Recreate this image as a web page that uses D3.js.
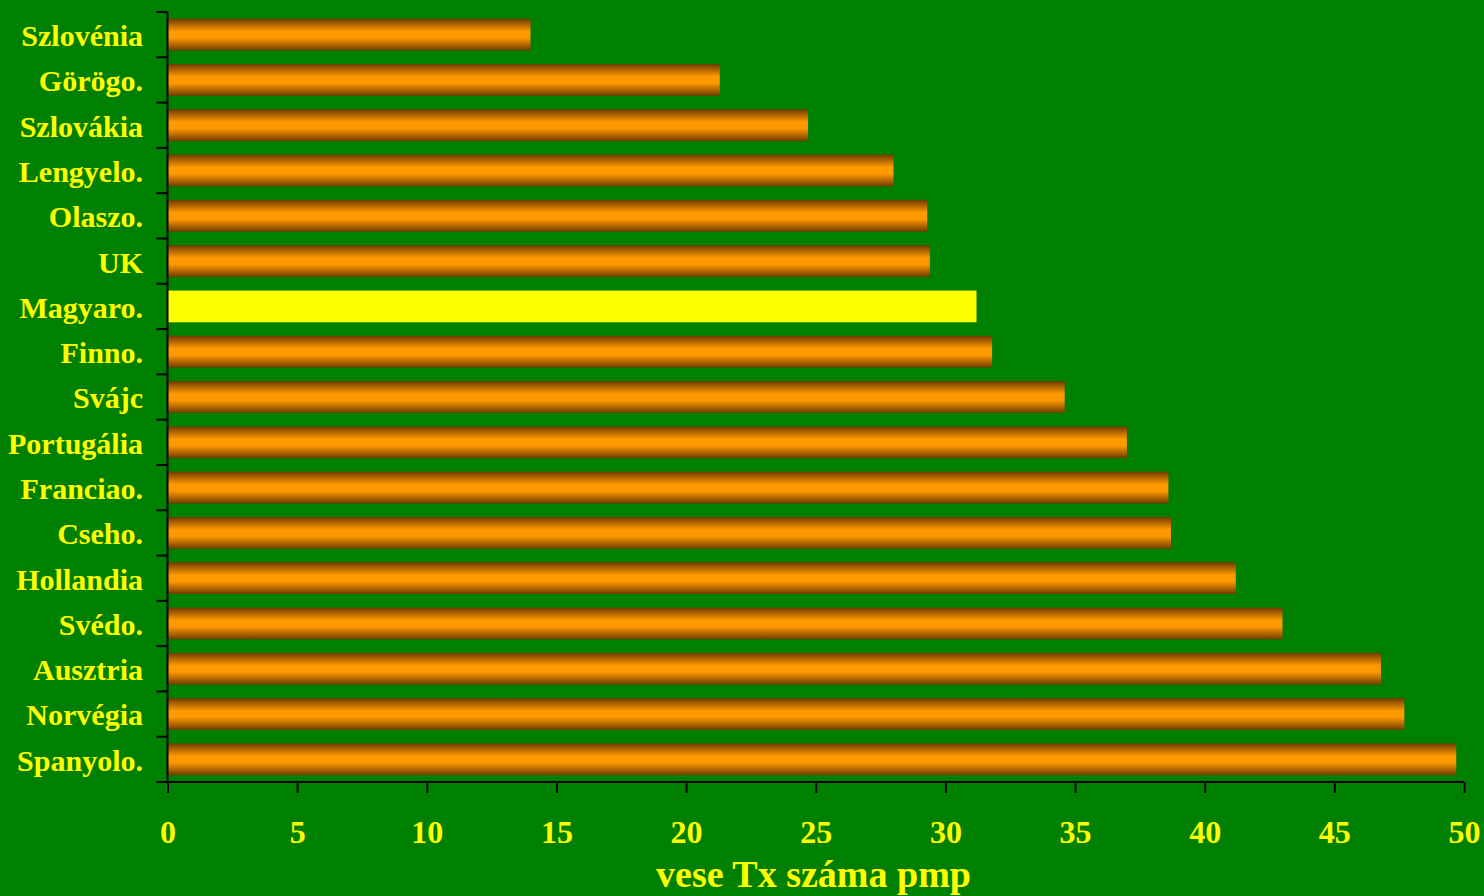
<!DOCTYPE html>
<html>
<head>
<meta charset="utf-8">
<script src="https://cdn.jsdelivr.net/npm/d3@7"></script>
<style>
  html, body { margin: 0; padding: 0; background: #008000; }
  svg { display: block; }
</style>
</head>
<body>
<svg id="chart" width="1484" height="896"></svg>
<script>
const categories = ["Szlovénia","Görögo.","Szlovákia","Lengyelo.","Olaszo.","UK","Magyaro.","Finno.","Svájc","Portugália","Franciao.","Cseho.","Hollandia","Svédo.","Ausztria","Norvégia","Spanyolo."];
const values = [14.0,21.3,24.7,28.0,29.3,29.4,31.2,31.8,34.6,37.0,38.6,38.7,41.2,43.0,46.8,47.7,49.7];
const highlight = "Magyaro.";
const xTicks = [0,5,10,15,20,25,30,35,40,45,50];
const xTitle = "vese Tx száma pmp";

const svg = d3.select("#chart");
const margin = {left: 167.5, right: 20, top: 12, bottom: 114};
const W = 1484, H = 896;

const x = d3.scaleLinear().domain([0, 50]).range([margin.left, 1464]);
const y = d3.scaleBand().domain(categories).range([margin.top, H - margin.bottom]).paddingInner(0.3).paddingOuter(0.15);

svg.append("rect").attr("width", W).attr("height", H).attr("fill", "#008000");

const defs = svg.append("defs");
const grad = defs.append("linearGradient").attr("id", "barGrad")
  .attr("x1", 0).attr("y1", 0).attr("x2", 0).attr("y2", 1);
grad.append("stop").attr("offset", "0%").attr("stop-color", "#703c00");
grad.append("stop").attr("offset", "40%").attr("stop-color", "#ff9900");
grad.append("stop").attr("offset", "60%").attr("stop-color", "#ff9900");
grad.append("stop").attr("offset", "100%").attr("stop-color", "#703c00");

const data = categories.map((c, i) => ({c, v: values[i]}));

svg.append("g").selectAll("rect").data(data).join("rect")
  .attr("x", x(0))
  .attr("y", d => y(d.c))
  .attr("width", d => x(d.v) - x(0))
  .attr("height", y.bandwidth())
  .attr("fill", d => d.c === highlight ? "#ffff00" : "url(#barGrad)");

// Y axis with ticks at band boundaries
const yAxisG = svg.append("g");
const bounds = categories.map(c => y(c) - y.step() * y.paddingInner() / 2);
bounds.push(H - margin.bottom);
yAxisG.append("line").attr("x1", x(0)).attr("x2", x(0))
  .attr("y1", margin.top).attr("y2", H - margin.bottom)
  .attr("stroke", "#000").attr("stroke-width", 2);
yAxisG.selectAll("line.tk").data(bounds).join("line").attr("class", "tk")
  .attr("x1", x(0) - 11).attr("x2", x(0))
  .attr("y1", d => d).attr("y2", d => d)
  .attr("stroke", "#000").attr("stroke-width", 2);
yAxisG.selectAll("text").data(categories).join("text")
  .attr("x", 143)
  .attr("y", d => y(d) + y.bandwidth() / 2)
  .attr("dy", "0.38em")
  .attr("text-anchor", "end")
  .attr("fill", "#ffff00")
  .attr("font-family", "'Liberation Serif', 'Times New Roman', serif")
  .attr("font-weight", "bold")
  .attr("font-size", 30)
  .text(d => d);

// X axis
const xAxis = d3.axisBottom(x).tickValues(xTicks).tickSize(11).tickPadding(0).tickFormat(d3.format("d"));
const xg = svg.append("g").attr("transform", `translate(0,${H - margin.bottom})`).call(xAxis);
xg.select(".domain").attr("stroke", "#000").attr("stroke-width", 2)
  .attr("d", `M${x(0)},0H${x(50)}`);
xg.selectAll(".tick line").attr("stroke", "#000").attr("stroke-width", 2);
xg.selectAll(".tick text")
  .attr("y", 61).attr("dy", 0)
  .attr("fill", "#ffff00")
  .attr("font-family", "'Liberation Serif', 'Times New Roman', serif")
  .attr("font-weight", "bold")
  .attr("font-size", 32);

svg.append("text")
  .attr("x", (657 + 970) / 2)
  .attr("y", 887)
  .attr("text-anchor", "middle")
  .attr("fill", "#ffff00")
  .attr("font-family", "'Liberation Serif', 'Times New Roman', serif")
  .attr("font-weight", "bold")
  .attr("font-size", 38)
  .text(xTitle);
</script>
</body>
</html>
